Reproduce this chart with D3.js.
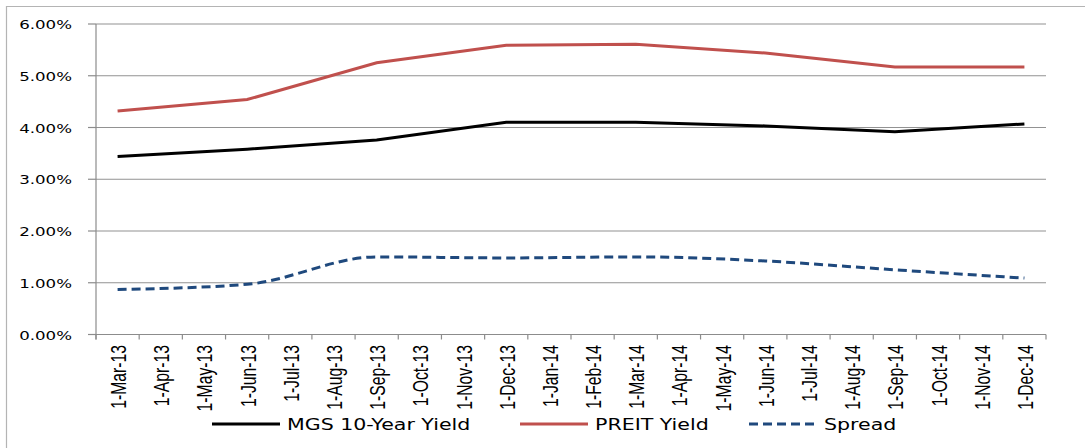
<!DOCTYPE html>
<html>
<head>
<meta charset="utf-8">
<script src="https://cdn.jsdelivr.net/npm/d3@7"></script>
<style>
  body { margin: 0; background: #fff; }
  svg { display: block; }
</style>
</head>
<body>
<div id="chart"></div>
<script>
// data (quarterly points on a monthly category axis)
const months = ["1-Mar-13","1-Apr-13","1-May-13","1-Jun-13","1-Jul-13","1-Aug-13","1-Sep-13","1-Oct-13",
  "1-Nov-13","1-Dec-13","1-Jan-14","1-Feb-14","1-Mar-14","1-Apr-14","1-May-14","1-Jun-14","1-Jul-14",
  "1-Aug-14","1-Sep-14","1-Oct-14","1-Nov-14","1-Dec-14"];
const dates = ["1-Mar-13","1-Jun-13","1-Sep-13","1-Dec-13","1-Mar-14","1-Jun-14","1-Sep-14","1-Dec-14"];
const mgs   = [0.0344, 0.0358, 0.0376, 0.0410, 0.0410, 0.0403, 0.0392, 0.0407];
const preit = [0.0432, 0.0454, 0.0525, 0.0559, 0.0561, 0.0544, 0.0517, 0.0517];
const spread = [0.0087, 0.0097, 0.0150, 0.0148, 0.0150, 0.0142, 0.0125, 0.0109];
const yTicks = [0, 0.01, 0.02, 0.03, 0.04, 0.05, 0.06];

const width = 1085;
const height = 448;
const plot = { left: 96, right: 1046, top: 24, bottom: 334.5 };

const svg = d3.select("#chart")
  .append("svg")
  .attr("width", width)
  .attr("height", height);

// outer frame (only top and left edges visible in the picture)
svg.append("line").attr("x1", 6).attr("x2", width).attr("y1", 6.5).attr("y2", 6.5)
  .attr("stroke", "#b4b4b4").attr("stroke-width", 1.2);
svg.append("line").attr("x1", 6.5).attr("x2", 6.5).attr("y1", 6).attr("y2", height)
  .attr("stroke", "#b4b4b4").attr("stroke-width", 1.2);

// scales
const x = d3.scaleBand().domain(months).range([plot.left, plot.right]).padding(0);
const y = d3.scaleLinear().domain([0, 0.06]).range([plot.bottom, plot.top]);
const cx = d => x(d) + x.bandwidth() / 2;

// gridlines
svg.selectAll(".grid")
  .data(yTicks.filter(t => t > 0))
  .enter().append("line")
  .attr("x1", plot.left).attr("x2", plot.right)
  .attr("y1", d => y(d)).attr("y2", d => y(d))
  .attr("stroke", "#929292").attr("stroke-width", 1.2);

// y axis
svg.append("line").attr("x1", plot.left).attr("x2", plot.left)
  .attr("y1", plot.top).attr("y2", plot.bottom + 5)
  .attr("stroke", "#8c8c8c").attr("stroke-width", 1.2);
svg.selectAll(".ytick")
  .data(yTicks)
  .enter().append("line")
  .attr("x1", plot.left - 8).attr("x2", plot.left)
  .attr("y1", d => y(d)).attr("y2", d => y(d))
  .attr("stroke", "#8c8c8c").attr("stroke-width", 1.2);
svg.selectAll(".ylab")
  .data(yTicks)
  .enter().append("g")
  .attr("transform", d => `translate(72, ${y(d) + 5}) scale(1.28,1)`)
  .append("text")
  .attr("text-anchor", "end")
  .attr("font-family", "DejaVu Sans, Verdana, sans-serif")
  .attr("font-size", 13)
  .attr("fill", "#000")
  .text(d => (d * 100).toFixed(2) + "%");

// x axis
svg.append("line").attr("x1", plot.left).attr("x2", plot.right)
  .attr("y1", plot.bottom).attr("y2", plot.bottom)
  .attr("stroke", "#8c8c8c").attr("stroke-width", 1.2);
svg.selectAll(".xtick")
  .data(months.map(m => x(m)).concat([plot.right]))
  .enter().append("line")
  .attr("x1", d => d).attr("x2", d => d)
  .attr("y1", plot.bottom).attr("y2", plot.bottom + 5)
  .attr("stroke", "#8c8c8c").attr("stroke-width", 1.2);
svg.selectAll(".xlab")
  .data(months)
  .enter().append("g")
  .attr("transform", d => `translate(${cx(d) + 8.5}, 345) rotate(-90) scale(0.7,1)`)
  .append("text")
  .attr("text-anchor", "end")
  .attr("font-family", "Liberation Sans, Arial, sans-serif")
  .attr("font-size", 22.5)
  .attr("fill", "#000")
  .text(d => d);

// series
const series = [
  { name: "MGS 10-Year Yield", values: mgs, color: "#000000", dash: null, curve: d3.curveLinear, lx: 212 },
  { name: "PREIT Yield", values: preit, color: "#C0504D", dash: null, curve: d3.curveLinear, lx: 520 },
  { name: "Spread", values: spread, color: "#1F497D", dash: "9,5", curve: d3.curveMonotoneX, lx: 749 }
];

series.forEach(s => {
  const line = d3.line()
    .x((d, i) => cx(dates[i]))
    .y(d => y(d))
    .curve(s.curve);
  svg.append("path")
    .datum(s.values)
    .attr("d", line)
    .attr("fill", "none")
    .attr("stroke", s.color)
    .attr("stroke-width", 3)
    .attr("stroke-dasharray", s.dash);
});

// legend
const legend = svg.selectAll(".legend")
  .data(series)
  .enter().append("g")
  .attr("transform", d => `translate(${d.lx}, 424)`);
legend.append("line")
  .attr("x1", 0).attr("x2", 68)
  .attr("y1", 0).attr("y2", 0)
  .attr("stroke", d => d.color)
  .attr("stroke-width", 3)
  .attr("stroke-dasharray", d => d.dash);
legend.append("g")
  .attr("transform", "translate(75, 5.5) scale(1.37,1)")
  .append("text")
  .attr("font-family", "DejaVu Sans, Verdana, sans-serif")
  .attr("font-size", 15)
  .attr("fill", "#000")
  .text(d => d.name);
</script>
</body>
</html>
